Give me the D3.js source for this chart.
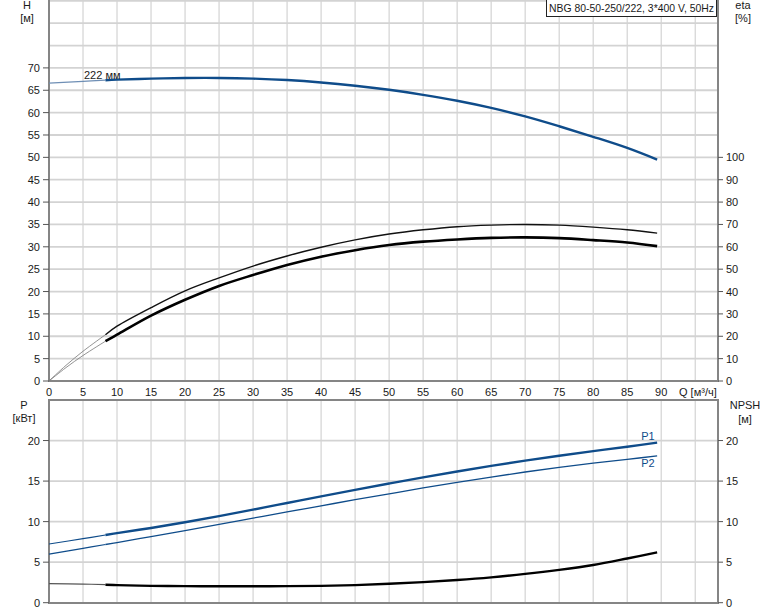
<!DOCTYPE html>
<html><head><meta charset="utf-8">
<script src="https://cdn.jsdelivr.net/npm/d3@7"></script>
<style>
body{margin:0;background:#fff;}
svg{display:block;font-family:"Liberation Sans",Arial,sans-serif;}
</style></head>
<body><svg id="c" width="774" height="611"></svg>
<script>
// ---- data ----
const qTicks = [0,5,10,15,20,25,30,35,40,45,50,55,60,65,70,75,80,85,90];
const hTicks = [0,5,10,15,20,25,30,35,40,45,50,55,60,65,70];
const etaTicks = [0,10,20,30,40,50,60,70,80,90,100];
const pTicks = [0,5,10,15,20];
const npshTicks = [0,5,10,15,20];

const qH   = [0,5,8.3,10,15,20,25,30,35,40,45,50,55,60,65,70,75,80,85,89.4];
const hVal = [66.6,67.0,67.25,67.38,67.6,67.74,67.75,67.6,67.28,66.75,66.02,65.1,63.98,62.65,61.05,59.15,56.95,54.6,52.1,49.5];

const qEta = [0,2.5,5,8.3,10,15,20,25,30,35,40,45,50,55,60,65,70,75,80,85,89.4];
const eta1 = [0,7,13.3,20.7,24.5,32.8,40.3,46.1,51.4,55.9,59.8,63.1,65.7,67.6,69.0,69.7,70.0,69.7,68.8,67.6,66.1];
const eta2 = [0,6,11.4,17.8,20.7,29.2,36.3,42.5,47.4,51.9,55.6,58.5,60.8,62.3,63.3,64.0,64.2,63.9,63.0,61.9,60.3];

const qP  = [0,5,8.3,10,15,20,25,30,35,40,45,50,55,60,65,70,75,80,85,89.4];
const p1  = [7.24,7.9,8.35,8.58,9.22,9.92,10.68,11.48,12.3,13.12,13.92,14.7,15.46,16.18,16.87,17.52,18.13,18.7,19.24,19.75];
const p2  = [6.0,6.7,7.18,7.42,8.15,8.9,9.66,10.43,11.2,11.95,12.7,13.43,14.15,14.84,15.5,16.12,16.7,17.22,17.68,18.1];
const npsh= [2.35,2.3,2.22,2.17,2.08,2.04,2.03,2.03,2.04,2.08,2.17,2.33,2.54,2.8,3.13,3.55,4.05,4.65,5.45,6.2];

const qStart = 8.3;
const title = "NBG 80-50-250/222, 3*400 V, 50Hz";

// ---- scales ----
const svg = d3.select("#c");
const X0=49, X1=718;
const x = d3.scaleLinear().domain([0,98.2]).range([49,717]);
const yH = d3.scaleLinear().domain([0,85]).range([381,0.8]);
const yE = d3.scaleLinear().domain([0,170]).range([381,0.8]);
const yP = d3.scaleLinear().domain([0,25]).range([602.7,400]);

const gridC="#d3d3d3", axisC="#858585", txtC="#1a1a1a", blue="#0f4c8a";

// ---- grids top ----
const gTop = svg.append("g");
d3.range(5,100,5).forEach(q=>{
  gTop.append("line").attr("x1",x(q)).attr("x2",x(q)).attr("y1",0).attr("y2",381)
    .attr("stroke",gridC).attr("stroke-width",1.2);
});
d3.range(5,90,5).forEach(h=>{
  gTop.append("line").attr("x1",X0).attr("x2",X1).attr("y1",yH(h)).attr("y2",yH(h))
    .attr("stroke",gridC).attr("stroke-width",1.8);
});
// grids bottom
const gBot = svg.append("g");
d3.range(5,100,5).forEach(q=>{
  gBot.append("line").attr("x1",x(q)).attr("x2",x(q)).attr("y1",400).attr("y2",602.7)
    .attr("stroke",gridC).attr("stroke-width",1.2);
});
d3.range(5,25,5).forEach(p=>{
  gBot.append("line").attr("x1",X0).attr("x2",X1).attr("y1",yP(p)).attr("y2",yP(p))
    .attr("stroke",gridC).attr("stroke-width",1.8);
});

// ---- axes lines ----
function ln(x1,y1,x2,y2,w,c){svg.append("line").attr("x1",x1).attr("y1",y1).attr("x2",x2).attr("y2",y2).attr("stroke",c||axisC).attr("stroke-width",w||2);}
ln(X0,0,X0,382); ln(X1,0,X1,382); ln(X0-1,381,X1+1,381);
ln(X0,400,X0,604); ln(X1,400,X1,604); ln(X0-1,400,X1+1,400); ln(X0-1,603,X1+1,603);

// ---- ticks & labels ----
const fs = 11;
hTicks.forEach(h=>{
  ln(43,yH(h),X0,yH(h),1,"#555");
  svg.append("text").attr("x",40).attr("y",yH(h)+4).attr("text-anchor","end")
    .attr("font-size",fs).attr("fill",txtC).text(h);
});
etaTicks.forEach(e=>{
  ln(X1,yE(e),X1+5,yE(e),1,"#555");
  svg.append("text").attr("x",726).attr("y",yE(e)+4).attr("text-anchor","start")
    .attr("font-size",fs).attr("fill",txtC).text(e);
});
pTicks.forEach(p=>{
  ln(43,yP(p),X0,yP(p),1,"#555");
  svg.append("text").attr("x",40).attr("y",yP(p)+4).attr("text-anchor","end")
    .attr("font-size",fs).attr("fill",txtC).text(p);
});
npshTicks.forEach(p=>{
  ln(X1,yP(p),X1+5,yP(p),1,"#555");
  svg.append("text").attr("x",726).attr("y",yP(p)+4).attr("text-anchor","start")
    .attr("font-size",fs).attr("fill",txtC).text(p);
});
qTicks.forEach(q=>{
  svg.append("text").attr("x",x(q)).attr("y",396).attr("text-anchor","middle")
    .attr("font-size",fs).attr("fill",txtC).text(q);
});
svg.append("text").attr("x",679).attr("y",396).attr("font-size",fs).attr("fill",txtC).text("Q [м³/ч]");

// axis titles
function lbl(t,xx,yy,anchor){svg.append("text").attr("x",xx).attr("y",yy).attr("text-anchor",anchor||"middle").attr("font-size",fs).attr("fill",txtC).text(t);}
lbl("H",27,9); lbl("[м]",27,22);
lbl("eta",743,9); lbl("[%]",743,22);
lbl("P",24,409); lbl("[кВт]",24,422);
lbl("NPSH",745,409); lbl("[м]",745,423);

// title box
svg.append("rect").attr("x",546.5).attr("y",-1).attr("width",170).attr("height",17.5)
  .attr("fill","#fff").attr("stroke","#222").attr("stroke-width",1);
svg.append("text").attr("x",549).attr("y",12).attr("font-size",fs).attr("fill",txtC)
  .attr("textLength",165).attr("lengthAdjust","spacingAndGlyphs").text(title);

// ---- curves ----
function drawSeries(qs, vs, ys, color, wThin, wThick, thinColor){
  const pts = qs.map((q,i)=>[q,vs[i]]);
  const line = d3.line().x(d=>x(d[0])).y(d=>ys(d[1])).curve(d3.curveCatmullRom.alpha(0.5));
  const thin = pts.filter(d=>d[0]<=qStart);
  const thick = pts.filter(d=>d[0]>=qStart);
  svg.append("path").attr("d",line(thin)).attr("fill","none").attr("stroke",thinColor||color).attr("stroke-width",wThin);
  svg.append("path").attr("d",line(thick)).attr("fill","none").attr("stroke",color).attr("stroke-width",wThick).attr("stroke-linecap","butt");
}
drawSeries(qH,hVal,yH,blue,1.2,2.4,"#6f8fb5");
drawSeries(qEta,eta1,yE,"#111",0.8,1.4,"#777");
drawSeries(qEta,eta2,yE,"#000",0.8,2.6,"#777");
drawSeries(qP,p1,yP,blue,1.2,2.4,blue);
drawSeries(qP,p2,yP,blue,1.2,1.3,blue);
drawSeries(qP,npsh,yP,"#000",1.2,2.4,"#555");

// curve labels
svg.append("text").attr("x",84).attr("y",79).attr("font-size",fs).attr("fill",txtC).text("222 мм");
svg.append("text").attr("x",648).attr("y",440).attr("text-anchor","middle").attr("font-size",fs).attr("fill",blue).text("P1");
svg.append("text").attr("x",648).attr("y",467).attr("text-anchor","middle").attr("font-size",fs).attr("fill",blue).text("P2");
</script></body></html>
